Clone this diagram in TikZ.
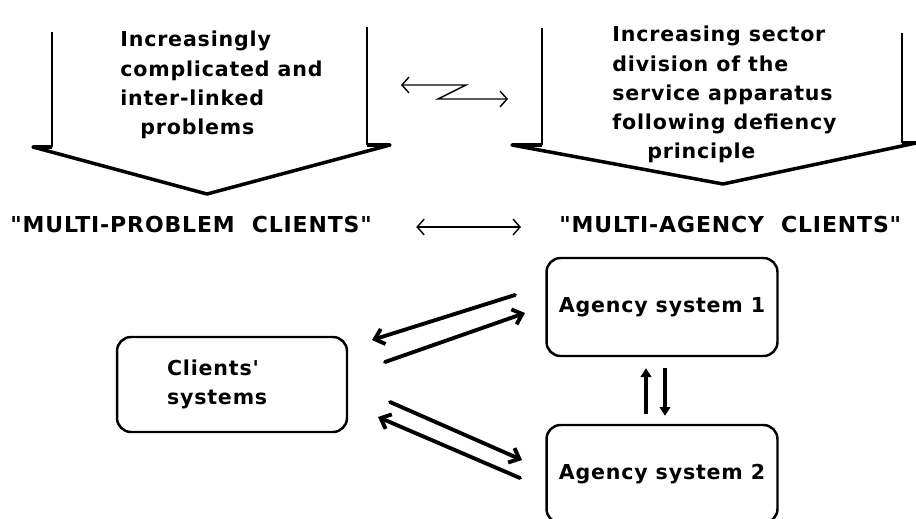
\documentclass[tikz,border=0pt]{standalone}
\usepackage{fontspec}
\setmainfont{DejaVu Sans}[LetterSpace=4, Ligatures=TeXOff]
\usetikzlibrary{arrows.meta, positioning}

\begin{document}
\begin{tikzpicture}[
          x=0.02cm, y=-0.02cm,
          blurb/.style={
              font=\fontsize{11.7}{16.6}\selectfont\bfseries,
              inner sep=0pt,
              align=left
            },
          heading/.style={
              font=\fontsize{12.5}{14}\selectfont\bfseries,
              inner sep=0pt
            },
          sysbox/.style={
              draw,
              rounded corners=8pt,
              line width=1.4pt,
              minimum width=4.62cm,
              minimum height=1.96cm,
              font=\fontsize{11.7}{16.6}\selectfont\bfseries
            },
          shaft/.style={line width=1.2pt},
          head/.style={line width=2pt, line join=round},
          linkline/.style={{Straight Barb[length=4pt,width=9pt]}-{Straight Barb[length=4pt,width=9pt]}, line width=0.8pt},
          flow/.style={-{Straight Barb[length=5pt,width=9pt]}, line width=2.2pt, line cap=round},
          pair/.style={-{Triangle[length=5pt,width=6pt]}, line width=1.8pt}
        ]
        \path[use as bounding box, clip] (0,0) rectangle (916,518);

        \draw[shaft] (52,32) -- (52,147);
        \draw[shaft] (367,27) -- (367,145);
        \draw[head] (52,147) -- (33,147) -- (207,194) -- (390,145) -- (367,145);
        \node[blurb, anchor=north west] (problems) at (120,31) {Increasingly\\complicated and\\inter-linked\\\hspace*{0.4cm}problems};

        \draw[shaft] (542,28) -- (542,145);
        \draw[shaft] (902,33) -- (902,143);
        \draw[head] (542,145) -- (512,145) -- (723,184) -- (916,143) -- (902,143);
        \node[blurb, anchor=north west] (sectors) at (612,26) {Increasing sector\\division of the\\service apparatus\\following defiency\\\hspace*{0.7cm}principle};

        \coordinate (zleft) at (401,85);
        \coordinate (ztop) at (466,85);
        \coordinate (zbot) at (438,99);
        \coordinate (zright) at (508,99);
        \draw[linkline] (zleft) -- (ztop) -- (zbot) -- (zright);

        \node[heading, anchor=west] (multiproblem) at (10,224) {"MULTI-PROBLEM\ \ CLIENTS"};
        \node[heading, anchor=west] (multiagency) at (559,224) {"MULTI-AGENCY\ \ CLIENTS"};
        \draw[linkline, shorten <=0.88cm, shorten >=0.76cm] ([yshift=-0.06cm]multiproblem.east) -- ([yshift=-0.06cm]multiagency.west);

        \node[sysbox] (agency1) at (662,307) {Agency system 1};
        \node[sysbox] (agency2) at (662,474) {Agency system 2};
        \node[sysbox, minimum width=4.6cm, minimum height=1.9cm, text width=2.6cm, align=left] (clients) at (232,384.5) {Clients'\\systems};

        \draw[pair] ([xshift=-0.32cm, yshift=0.2cm]agency2.north) -- ([xshift=-0.32cm, yshift=-0.22cm]agency1.south);
        \draw[pair] ([xshift=0.06cm, yshift=-0.22cm]agency1.south) -- ([xshift=0.06cm, yshift=0.16cm]agency2.north);

        \coordinate (ag1back) at (515,295);
        \coordinate (cl1in) at (372,340);
        \coordinate (cl1out) at (385,362);
        \coordinate (ag1in) at (525,313);
        \coordinate (cl2out) at (390,402);
        \coordinate (ag2in) at (522,460);
        \coordinate (ag2back) at (520,478);
        \coordinate (cl2in) at (378,417);
        \draw[flow] (ag1back) -- (cl1in);
        \draw[flow] (cl1out) -- (ag1in);
        \draw[flow] (cl2out) -- (ag2in);
        \draw[flow] (ag2back) -- (cl2in);
      \end{tikzpicture}
\end{document}
